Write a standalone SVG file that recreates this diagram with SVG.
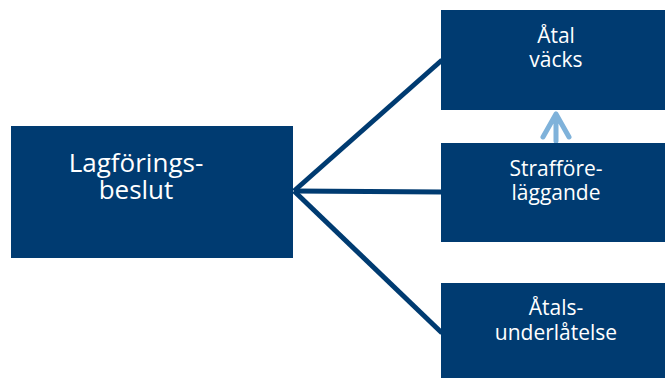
<svg xmlns="http://www.w3.org/2000/svg" width="665" height="378" viewBox="0 0 665 378">
<style>
.box{fill:#003B71}
.t{fill:#fff;font-family:"Open Sans","DejaVu Sans",sans-serif;text-anchor:middle}
.big{font-size:26px}
.sm{font-size:21px}
.conn{stroke:#003B71;stroke-width:5;fill:none}
.up{stroke:#7FB2DA;stroke-width:5;fill:none;stroke-linecap:round;stroke-linejoin:round}
</style>
<rect width="665" height="378" fill="#fff"/>
<g id="connectors">
<line class="conn" x1="294" y1="191" x2="442" y2="60"/>
<line class="conn" x1="294" y1="191" x2="442" y2="192"/>
<line class="conn" x1="294" y1="191" x2="442" y2="333"/>
<path class="up" d="M556 141 V114 M543 137 L556 114 L569 137"/>
</g>
<g id="lagforingsbeslut">
<rect class="box" x="11" y="126" width="282" height="132"/>
<text class="t big" x="136" y="172">Lagförings-</text>
<text class="t big" x="136" y="199">beslut</text>
</g>
<g id="atal-vacks">
<rect class="box" x="441" y="10" width="224" height="100"/>
<text class="t sm" x="556" y="43">Åtal</text>
<text class="t sm" x="556" y="67">väcks</text>
</g>
<g id="strafforelaggande">
<rect class="box" x="441" y="143" width="224" height="99"/>
<text class="t sm" x="556" y="176">Strafföre-</text>
<text class="t sm" x="556" y="200">läggande</text>
</g>
<g id="atalsunderlatelse">
<rect class="box" x="441" y="283" width="224" height="95"/>
<text class="t sm" x="556" y="315">Åtals-</text>
<text class="t sm" x="556" y="340">underlåtelse</text>
</g>
</svg>
